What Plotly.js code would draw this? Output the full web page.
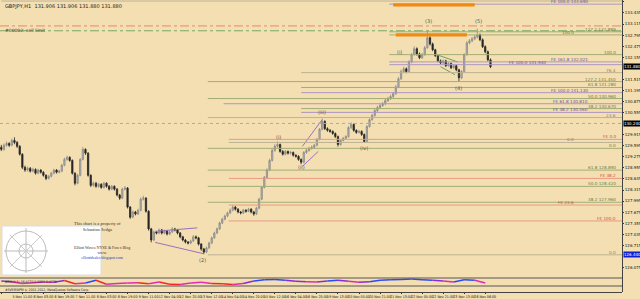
<!DOCTYPE html>
<html><head><meta charset="utf-8">
<script src="https://cdn.plot.ly/plotly-3.0.1.min.js"></script>
<style>html,body{margin:0;padding:0;background:#F4DFB2;}#c{width:640px;height:299px;}</style>
</head><body><div id="c"></div>
<script>
// ---- data: GBPJPY 2-hour bars (hour index from start), prices ----
const firstOpen = 129.55;
const closes = [129.49,129.61,129.66,129.61,129.75,129.69,129.58,129.35,128.97,128.89,
128.94,128.86,128.91,128.80,128.89,128.83,128.74,128.65,128.71,128.80,
128.89,128.83,128.86,129.03,129.20,129.26,129.17,128.80,128.51,128.74,
129.20,129.49,129.38,128.74,128.45,128.51,128.42,128.48,128.39,128.51,
128.42,128.34,128.42,128.34,128.17,128.08,128.34,128.37,127.82,127.53,
127.68,127.62,127.73,128.05,128.08,127.70,127.19,126.87,127.10,127.07,
127.16,127.07,127.13,127.04,127.10,127.19,127.16,127.07,126.96,126.87,
126.81,126.78,126.84,126.96,126.93,126.75,126.61,126.52,126.64,126.78,
126.93,127.07,127.19,127.36,127.47,127.56,127.65,127.73,127.82,127.76,
127.68,127.65,127.73,127.70,127.76,127.68,127.62,127.79,128.05,128.39,
128.68,128.89,129.17,129.46,129.58,129.63,129.43,129.35,129.43,129.38,
129.40,129.32,129.29,129.20,129.12,129.40,129.46,129.52,129.55,129.61,
129.78,130.07,130.30,130.09,130.04,130.01,129.95,129.86,129.63,129.75,
129.81,129.86,130.12,130.21,130.04,129.98,130.01,129.92,129.72,130.15,
130.35,130.47,130.61,130.70,130.76,130.81,130.90,130.96,131.02,131.10,
131.30,131.53,131.74,131.82,131.74,132.02,132.23,132.40,132.25,132.14,
132.23,132.43,132.72,132.54,132.37,132.20,132.05,131.99,132.05,131.91,
131.97,131.85,131.91,131.79,131.56,131.74,132.23,132.57,132.63,132.69,
132.74,132.80,132.66,132.46,132.31,132.08,131.88];
const highs = [129.62,129.66,129.72,129.70,129.80,129.84,129.73,129.61,129.38,129.02,
128.99,128.98,128.96,128.94,128.93,128.92,128.86,128.77,128.75,128.84,
128.93,128.92,128.90,129.07,129.25,129.31,129.29,129.20,128.83,128.78,
129.24,129.56,129.52,129.41,128.77,128.56,128.55,128.52,128.51,128.55,
128.54,128.46,128.46,128.45,128.37,128.20,128.38,128.43,128.40,127.85,
127.72,127.71,127.77,128.10,128.15,128.11,127.73,127.22,127.14,127.13,
127.20,127.19,127.17,127.16,127.14,127.24,127.22,127.19,127.10,126.99,
126.90,126.84,126.88,127.01,127.00,126.96,126.78,126.64,126.68,126.82,
126.97,127.11,127.23,127.40,127.51,127.60,127.69,127.78,127.87,127.85,
127.79,127.71,127.77,127.76,127.80,127.79,127.71,127.83,128.09,128.43,
128.72,128.94,129.22,129.51,129.64,129.72,129.66,129.47,129.47,129.46,
129.45,129.43,129.35,129.32,129.23,129.44,129.50,129.56,129.60,129.65,
129.82,130.11,130.38,130.33,130.13,130.08,130.04,129.98,129.89,129.79,
129.85,129.90,130.16,130.27,130.24,130.07,130.05,130.04,129.95,130.19,
130.39,130.52,130.66,130.75,130.81,130.86,130.95,131.01,131.07,131.15,
131.35,131.58,131.80,131.88,131.86,132.07,132.28,132.47,132.44,132.29,
132.28,132.48,132.92,132.76,132.58,132.40,132.23,132.09,132.09,132.08,
132.01,132.00,131.95,131.94,131.82,131.78,132.27,132.62,132.68,132.74,
132.80,132.98,132.84,132.70,132.50,132.35,132.12];
const lows = [129.44,129.45,129.57,129.56,129.58,129.64,129.53,129.31,128.92,128.84,
128.85,128.82,128.83,128.76,128.77,128.79,128.70,128.60,128.62,128.68,
128.77,128.79,128.80,128.83,129.00,129.16,129.13,128.76,128.45,128.48,
128.71,129.17,129.33,128.70,128.40,128.41,128.38,128.38,128.35,128.36,
128.38,128.30,128.31,128.30,128.13,128.03,128.05,128.30,127.78,127.48,
127.50,127.58,127.59,127.70,128.01,127.66,127.14,126.80,126.84,127.03,
127.04,127.03,127.04,127.00,127.01,127.07,127.12,127.03,126.92,126.83,
126.77,126.74,126.75,126.81,126.89,126.71,126.56,126.46,126.49,126.61,
126.75,126.90,127.04,127.16,127.33,127.44,127.53,127.62,127.70,127.72,
127.64,127.61,127.62,127.66,127.67,127.64,127.57,127.59,127.76,128.02,
128.36,128.65,128.86,129.14,129.42,129.54,129.39,129.31,129.32,129.34,
129.34,129.28,129.25,129.16,129.06,129.09,129.36,129.42,129.48,129.51,
129.58,129.75,130.04,130.05,130.00,129.97,129.91,129.82,129.57,129.60,
129.72,129.77,129.83,130.08,130.00,129.94,129.95,129.88,129.68,129.69,
130.12,130.32,130.44,130.57,130.66,130.72,130.77,130.86,130.92,130.98,
131.07,131.27,131.50,131.70,131.69,131.71,131.98,132.20,132.20,132.10,
132.11,132.20,132.40,132.49,132.33,132.16,132.01,131.95,131.96,131.87,
131.88,131.81,131.82,131.75,131.45,131.52,131.71,132.20,132.53,132.59,
132.65,132.70,132.62,132.42,132.27,132.04,131.84];

// x-axis tick labels (every 16 hours)
const tickHours = [0,16,32,48,64,80,96,112,128,144,160,176,192,208,224,240,256,272,288,304,320,336,352,368];
const tickText = ["1 Nov 2012","5 Nov 11:00","6 Nov 03:00","6 Nov 19:00","7 Nov 11:00","8 Nov 03:00","8 Nov 19:00","9 Nov 11:00","12 Nov 04:00","12 Nov 20:00","13 Nov 12:00","14 Nov 04:00","14 Nov 20:00","15 Nov 12:00","16 Nov 04:00","16 Nov 20:00","19 Nov 13:00","20 Nov 05:00","20 Nov 21:00","21 Nov 13:00","22 Nov 05:00","22 Nov 21:00","23 Nov 13:00","26 Nov 06:00"];
// price axis labels
const priceTicks = [133.755,133.435,133.115,132.795,132.475,132.155,131.835,131.515,131.195,130.875,130.555,130.235,129.915,129.595,129.275,128.955,128.635,128.315,127.995,127.675,127.355,127.035,126.715,126.395,126.075];

// fibonacci / expansion levels
const levelPrice = [133.78,133.69,132.89,132.80,132.23,132.02,131.94,131.71,131.45,131.28,131.13,130.96,130.81,130.67,130.56,130.41,129.78,129.69,129.52,128.89,128.65,128.42,127.96,127.88,127.42,126.44];
const levelName = ["","FE 100.0 133.690","127.2 132.889","100.0","100.0","FE 161.8 132.021","FE 100.0 131.940","76.4","127.2 131.450","61.8 131.280","FE 100.0 131.130","50.0 130.960","FE 61.8 130.810","38.2 130.670","FE 38.2 130.560","23.6","FE 0.0","0.0","0.0","61.8 128.890","FE 38.2","50.0 128.420","38.2 127.960","FE 23.6","FE 100.0","0.0"];
const levelKind = ["n","p","g","g","g","p","p","n","g","g","p","g","p","g","p","n","s","n","g","g","s","g","g","s","s","n"];
const levelStart = [0,295,295,295,295,295,295,228,157,228,228,157,169,228,228,157,173,173,157,157,173,157,157,173,173,157];

// order lines
const orderPrice = [133.06,132.92,130.24];
const orderKind = ["sl","tp","bid"];

// target zones (orange)
const zoneStart = [298,300], zoneEnd = [360,354], zonePrice = [133.67,132.80];

// trend-line drawings: [hour0, price0, hour1, price1, kind]
const drawLines = [
  [117,127.12,149,127.22,"p"],[117,126.80,154,126.47,"p"],
  [229,129.58,244,130.35,"p"],[229,129.00,241,129.43,"p"],
  [331,132.23,347,132.02,"g"],[334,131.88,345,131.65,"g"]
];

// wave labels
const waveHour = [325,363,348,244,276,153,228,211,303];
const wavePrice = [133.19,133.20,131.27,130.58,129.52,126.30,128.97,129.86,132.30];
const waveText = ["(3)","(5)","(4)","(iii)","(iv)","(2)","(ii)","(i)","(i)"];

// oscillator (8-hour steps)
const oscVals = [0.3,0.1,-0.4,-0.2,0.0,-0.1,0.4,-0.5,-0.3,0.5,-0.6,-0.4,-0.3,-0.2,-0.5,0.0,-0.6,-0.7,-0.3,-0.1,-0.4,-0.5,-0.7,-0.4,0.3,0.6,0.7,0.5,0.2,0.1,0.0,0.3,0.5,0.2,-0.1,0.1,0.5,0.6,0.7,0.8,0.6,0.5,0.3,0.0,0.6,0.5,-0.3];

const titleText = "GBPJPY,H1  131.906 131.906 131.880 131.880";

// ---- build ----
const hours = closes.map((_, i) => i * 2);
const opens = [firstOpen].concat(closes.slice(0, -1));
const R = 18, B = 7;
const W = 640 - R, H = 299 - B;
const MAIN_END = 278, OSC_END = 286;
const px = x => x / W, py = y => 1 - y / H;
const kindColor = {g:"#a3ad74", p:"#ab97c4", s:"#e79a86", n:"#bdb294"};
const kindText = {g:"#6f7a40", p:"#6e50a0", s:"#d0503a", n:"#8a8070"};
const NARROW = "Liberation Sans Narrow, DejaVu Sans Condensed, sans-serif";

const traces = [];
traces.push({
  type:"candlestick", x:hours, open:opens, high:highs, low:lows, close:closes,
  increasing:{line:{color:"#8a8a8a",width:0.8}, fillcolor:"#b4b4b4"},
  decreasing:{line:{color:"#262626",width:0.8}, fillcolor:"#262626"},
  whiskerwidth:0, showlegend:false, hoverinfo:"skip", xaxis:"x", yaxis:"y"
});
drawLines.forEach(d => traces.push({
  type:"scatter", mode:"lines", x:[d[0],d[2]], y:[d[1],d[3]],
  line:{color:d[4]==="p"?"#9a70c0":"#6aa060", width:1}, showlegend:false, hoverinfo:"skip", yaxis:"y"
}));
const oscHours = oscVals.map((_, i) => i * 8);
for (let i = 0; i < oscVals.length - 1; i++) {
  const v = oscVals[i+1];
  const col = v > 0.45 ? "#2a48ff" : v > 0 ? "#8a2cd8" : v > -0.45 ? "#e02ab8" : "#f0282c";
  traces.push({type:"scatter", mode:"lines", x:[oscHours[i],oscHours[i+1]], y:[oscVals[i],v],
    line:{color:col,width:1.5}, showlegend:false, hoverinfo:"skip", xaxis:"x", yaxis:"y2"});
}
traces.push({type:"scatter", mode:"lines", x:[], y:[], xaxis:"x", yaxis:"y3", showlegend:false, hoverinfo:"skip"});

const shapes = [];
levelPrice.forEach((p, i) => shapes.push({type:"line", xref:"x", yref:"y", x0:levelStart[i], x1:472, y0:p, y1:p,
  line:{color:kindColor[levelKind[i]], width:1}}));
orderPrice.forEach((p, i) => {
  const k = orderKind[i];
  shapes.push({type:"line", xref:"x", yref:"y", x0:-1, x1:472, y0:p, y1:p,
    line:{color:k==="sl"?"#e88870":k==="tp"?"#7aa868":"#bba88a", width:1, dash:k==="bid"?"dot":"dashdot"}});
});
zonePrice.forEach((p, i) => shapes.push({type:"rect", xref:"x", yref:"y", x0:zoneStart[i], x1:zoneEnd[i], y0:p-0.045, y1:p+0.045,
  fillcolor:"#f08a10", line:{width:0}}));
[MAIN_END, OSC_END].forEach(y => shapes.push({type:"line", xref:"paper", yref:"paper", x0:0, x1:1, y0:py(y), y1:py(y), line:{color:"#555", width:1}}));
// watermark box
shapes.push({type:"rect", xref:"paper", yref:"paper", x0:px(2), x1:px(101), y0:py(275), y1:py(226), fillcolor:"#ffffff", line:{color:"#ddd", width:1}});
shapes.push({type:"circle", xref:"paper", yref:"paper", x0:px(6), x1:px(46), y0:py(271), y1:py(231), line:{color:"#bbb", width:1}});
shapes.push({type:"circle", xref:"paper", yref:"paper", x0:px(19), x1:px(33), y0:py(258), y1:py(244), line:{color:"#bbb", width:1}});
shapes.push({type:"line", xref:"paper", yref:"paper", x0:px(4), x1:px(48), y0:py(251), y1:py(251), line:{color:"#bbb", width:1}});
shapes.push({type:"line", xref:"paper", yref:"paper", x0:px(26), x1:px(26), y0:py(273), y1:py(228), line:{color:"#bbb", width:1}});
shapes.push({type:"line", xref:"paper", yref:"paper", x0:px(10), x1:px(42), y0:py(267), y1:py(235), line:{color:"#ccc", width:1}});
shapes.push({type:"line", xref:"paper", yref:"paper", x0:px(10), x1:px(42), y0:py(235), y1:py(267), line:{color:"#ccc", width:1}});

const F = "DejaVu Sans, sans-serif";
const ann = [];
const placed = [];
levelName.forEach((t, i) => {
  if (!t) return;
  let xr = levelKind[i] === "p" ? 590 : 618;
  while (placed.some(q => q.x === xr && Math.abs(q.p - levelPrice[i]) < 0.12)) xr -= 42;
  placed.push({x:xr, p:levelPrice[i]});
  ann.push({xref:"paper", yref:"y", x:px(xr), y:levelPrice[i], text:t, showarrow:false,
    xanchor:"right", yanchor:"bottom", yshift:-2, font:{size:4.2, color:kindText[levelKind[i]], family:F}});
});
waveText.forEach((t, i) => ann.push({xref:"x", yref:"y", x:waveHour[i], y:wavePrice[i], text:t, showarrow:false,
  font:{size:5, color:"#555", family:F}}));
ann.push({xref:"paper", yref:"paper", x:px(3), y:py(1), text:titleText, showarrow:false, xanchor:"left", yanchor:"top", font:{size:5, color:"#222", family:F}});
ann.push({xref:"paper", yref:"y", x:px(3), y:orderPrice[1], text:"#00002: sell limit", showarrow:false, xanchor:"left", yanchor:"middle", font:{size:4.5, color:"#333", family:F}});
ann.push({xref:"paper", yref:"paper", x:px(3), y:py(MAIN_END + 0.3), text:"#RSI(8,5) 36.8770 0.0000 0.4776", showarrow:false, xanchor:"left", yanchor:"top", font:{size:3.4, color:"#222", family:NARROW}});
ann.push({xref:"paper", yref:"paper", x:px(3), y:py(OSC_END + 0.3), text:"#SVEMWPM © 2001-2012, MetaQuotes Software Corp.", showarrow:false, xanchor:"left", yanchor:"top", font:{size:3.4, color:"#222", family:NARROW}});
const boxes = [[closes[closes.length-1],"#000"],[orderPrice[2],"#000"],[levelPrice[levelPrice.length-1],"#1020d0"]];
boxes.forEach(b => ann.push({xref:"paper", yref:"y", x:1, y:b[0], text:b[0].toFixed(3), showarrow:false, xanchor:"left", xshift:1,
    bgcolor:b[1], font:{size:4, color:"#fff", family:F}, borderpad:0}));
const shownTicks = priceTicks.filter(t => boxes.every(b => Math.abs(b[0] - t) > 0.16));
ann.push({xref:"paper", yref:"paper", x:px(72), y:py(234), text:"This chart is a property of<br>Sebastian Sedga", showarrow:false, font:{size:4.5, color:"#333", family:"Liberation Serif, serif"}});
ann.push({xref:"paper", yref:"paper", x:px(72), y:py(262), text:"Elliott Waves NYSE & Forex Blog<br>www.<br><span style='color:#2040c0'>elliottdealer.blogspot.com</span>", showarrow:false, font:{size:4, color:"#333", family:"Liberation Serif, serif"}});

const layout = {
  width:640, height:299, margin:{l:0, r:R, t:0, b:B},
  paper_bgcolor:"#F4DFB2", plot_bgcolor:"#F4DFB2", showlegend:false,
  font:{family:F, size:5, color:"#111"},
  xaxis:{range:[-1,472], anchor:"free", position:0, tickvals:tickHours, ticktext:tickText, tickangle:0,
    tickfont:{size:3.6, family:NARROW, color:"#111"}, showgrid:false, zeroline:false, ticks:"outside", ticklen:1, tickcolor:"#333",
    showline:true, linecolor:"#444", rangeslider:{visible:false}, fixedrange:true},
  yaxis:{domain:[(H-MAIN_END)/H,1], range:[125.77,133.81], side:"right", tickvals:shownTicks, tickformat:".3f",
    tickfont:{size:4, family:F, color:"#111"}, showgrid:false, zeroline:false, showline:true, linecolor:"#444",
    ticks:"outside", ticklen:1, tickcolor:"#333"},
  yaxis2:{domain:[(H-OSC_END)/H,(H-MAIN_END)/H], range:[-1.1,1.1], side:"right", showticklabels:false, showgrid:false, zeroline:false, showline:true, linecolor:"#444", anchor:"x"},
  yaxis3:{domain:[0,(H-OSC_END)/H], range:[0,1], side:"right", showticklabels:false, showgrid:false, zeroline:false, showline:true, linecolor:"#444", anchor:"x"},
  shapes:shapes, annotations:ann
};
Plotly.newPlot("c", traces, layout, {staticPlot:true, displayModeBar:false});
</script></body></html>
